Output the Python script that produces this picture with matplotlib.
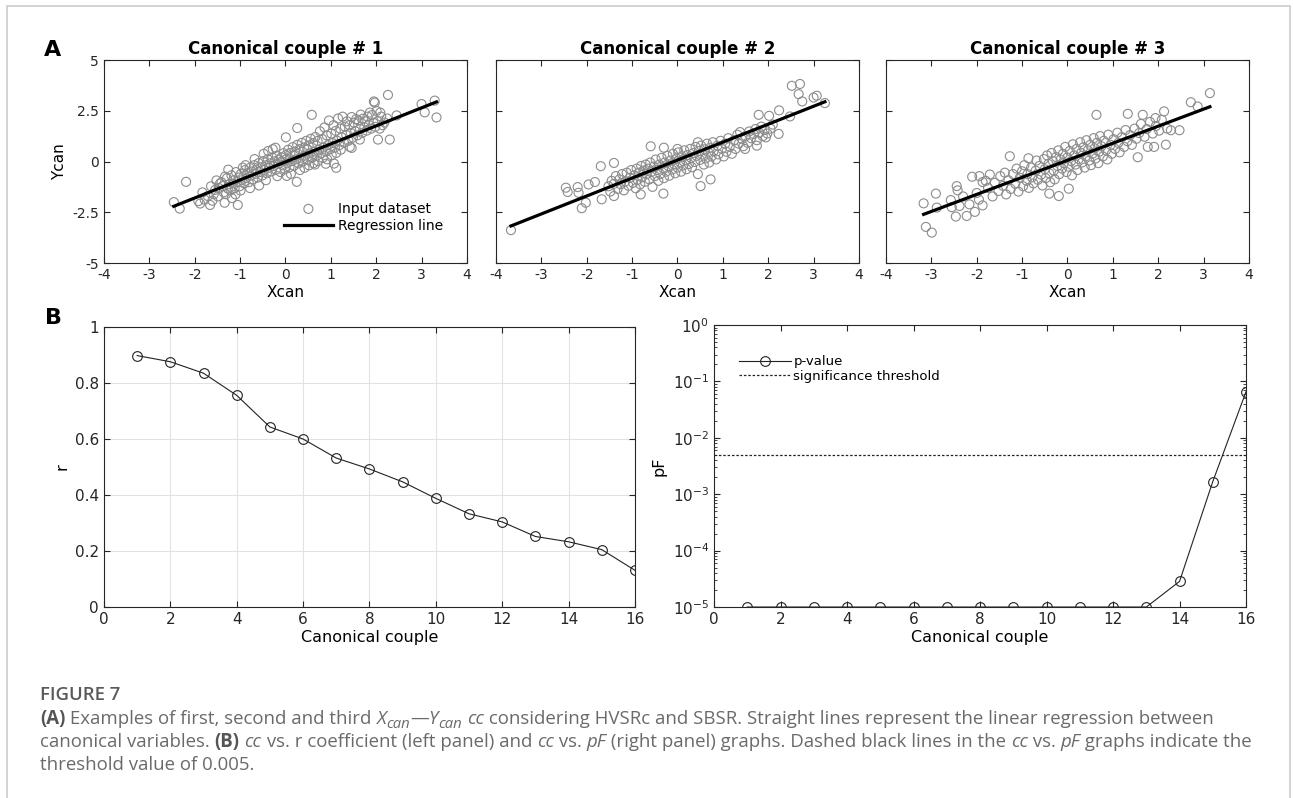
#! /usr/bin/env python

# Necessary Libraries
import numpy as np
import matplotlib.pyplot as plt
from matplotlib.patches import Rectangle

plt.rcParams['font.family'] = ['DejaVu Sans']

# ---- data ----

# canonical couple #1 (Xcan, Ycan)
cc1 = [
    (-2.46, -2.00), (-2.33, -2.32), (-2.19, -1.00), (-1.88, -2.07), (-1.66, -2.14), (-1.34, -2.03), (-1.05, -2.14),
    (-1.92, -1.95), (-1.83, -1.52), (-1.78, -1.88), (-1.71, -1.70),
    (-1.64, -1.22), (-1.58, -1.61), (-1.61, -1.93), (-1.55, -1.40),
    (-1.52, -0.93), (-1.47, -1.30), (-1.49, -1.72), (-1.44, -1.08),
    (-1.41, -1.02), (-1.36, -1.52), (-1.38, -1.21), (-1.33, -0.74),
    (-1.29, -0.82), (-1.27, -1.33), (-1.31, -1.61), (-1.24, -1.12), (-1.26, -0.40),
    (-1.19, -0.68), (-1.16, -1.08), (-1.21, -1.42), (-1.14, -0.93), (-1.18, -1.80),
    (-1.09, -0.52), (-1.06, -1.01), (-1.12, -1.31), (-1.03, -0.79), (-1.10, -1.62),
    (-0.98, -0.61), (-0.96, -0.92), (-1.01, -1.22), (-0.94, -0.30), (-0.99, -1.43),
    (-0.89, -0.42), (-0.86, -0.81), (-0.91, -1.08), (-0.84, -0.58), (-0.88, -0.18),
    (-0.79, -0.32), (-0.76, -0.70), (-0.81, -1.02), (-0.74, -0.49), (-0.78, -1.31),
    (-0.69, -0.18), (-0.66, -0.61), (-0.71, -0.88), (-0.64, -0.40), (-0.68, 0.12),
    (-0.59, -0.08), (-0.56, -0.52), (-0.61, -0.79), (-0.54, -0.28), (-0.58, -1.18),
    (-0.49, 0.02), (-0.46, -0.41), (-0.51, -0.69), (-0.44, -0.19), (-0.48, 0.38),
    (-0.39, 0.11), (-0.36, -0.31), (-0.41, -0.58), (-0.34, -0.09), (-0.38, 0.52), (-0.43, -0.92),
    (-0.29, 0.19), (-0.26, -0.22), (-0.31, -0.49), (-0.24, 0.01), (-0.28, 0.61),
    (-0.19, 0.28), (-0.16, -0.12), (-0.21, -0.41), (-0.14, 0.09), (-0.18, -0.72), (-0.22, 0.68),
    (-0.09, 0.21), (-0.06, -0.19), (-0.11, -0.52), (-0.04, 0.41), (-0.08, 0.01),
    (0.01, 0.31), (0.04, -0.09), (-0.01, -0.38), (0.06, 0.58), (0.02, 0.12), (0.03, -0.71),
    (0.11, 0.42), (0.14, 0.02), (0.09, -0.28), (0.16, 0.71), (0.12, -0.61),
    (0.21, 0.49), (0.24, 0.11), (0.19, -0.21), (0.26, 0.82), (0.22, 0.31),
    (0.31, 0.61), (0.34, 0.19), (0.29, -0.09), (0.36, 0.92), (0.32, -0.42),
    (0.41, 0.69), (0.44, 0.29), (0.39, 0.01), (0.46, 1.02), (0.42, -0.31),
    (0.51, 0.79), (0.54, 0.41), (0.49, 0.09), (0.56, 1.12), (0.52, -0.19), (0.48, 0.61),
    (0.61, 0.91), (0.64, 0.49), (0.59, 0.19), (0.66, 1.21), (0.62, -0.08),
    (0.71, 1.01), (0.74, 0.59), (0.69, 0.29), (0.76, 1.49), (0.72, 0.02),
    (0.81, 1.11), (0.84, 0.69), (0.79, 0.41), (0.86, 1.68), (0.82, 0.18),
    (0.91, 1.29), (0.94, 0.81), (0.89, 0.49), (0.96, 2.02), (0.92, 0.11),
    (1.01, 1.38), (1.04, 0.91), (0.99, 0.61), (1.06, 1.79), (1.02, 0.31),
    (1.11, 1.51), (1.14, 1.02), (1.09, 0.69), (1.16, 2.12), (1.12, 0.42),
    (1.21, 1.62), (1.24, 1.19), (1.19, 0.81), (1.26, 2.21), (1.22, 0.58),
    (1.31, 1.71), (1.34, 1.31), (1.29, 0.92), (1.36, 1.98),
    (1.41, 1.79), (1.44, 1.41), (1.39, 1.02), (1.46, 2.19), (1.42, 0.72),
    (1.51, 1.91), (1.54, 1.49), (1.49, 1.18), (1.56, 2.09),
    (1.61, 2.02), (1.64, 1.61), (1.59, 1.29), (1.66, 2.31),
    (1.71, 2.11), (1.74, 1.69), (1.69, 1.41), (1.76, 1.98),
    (1.81, 2.21), (1.84, 1.81), (1.79, 1.52), (1.86, 2.41),
    (1.91, 2.29), (1.94, 1.91), (1.89, 1.62),
    (2.01, 2.49), (2.03, 1.98), (1.98, 1.71), (2.08, 1.62),
    (2.11, 2.21), (2.14, 1.79), (2.09, 2.41), (2.18, 1.92), (2.24, 2.12),
    (0.25, -1.00), (0.58, 2.30), (1.12, -0.31), (1.07, -0.10), (0.26, 1.65), (0.01, 1.19),
    (2.26, 3.28), (1.95, 2.96), (1.97, 2.90), (2.45, 2.27), (2.30, 1.08), (2.04, 1.08),
    (3.00, 2.83), (3.07, 2.42), (3.29, 3.00), (3.33, 2.17),
    (1.64, 1.08), (1.46, 0.67), (0.65, -0.15), (0.89, -0.11),
]

# canonical couple #2
cc2 = [
    (-3.67, -3.38), (-2.46, -1.29), (-2.42, -1.50), (-2.20, -1.26), (-2.18, -1.54),
    (-2.11, -2.30), (-2.02, -2.03), (-1.96, -1.13), (-1.82, -1.01), (-1.69, -0.23),
    (-1.40, -0.07), (-1.67, -1.86), (-1.40, -1.70), (-0.59, 0.75), (-0.31, -1.58),
    (-0.81, -1.62), (0.51, -1.21), (0.73, -0.88),
    (2.52, 3.73), (2.70, 3.82), (2.67, 3.32), (2.75, 2.96), (3.00, 3.15), (3.07, 3.24), (3.25, 2.88),
    (2.24, 2.52), (2.48, 2.22), (2.23, 1.36), (1.95, 1.19), (1.75, 0.78), (1.49, 0.62),
    (1.79, 2.30), (2.02, 2.25),
    (-1.52, -1.22), (-1.45, -0.95), (-1.48, -1.48), (-1.40, -1.10), (-1.36, -0.72),
    (-1.32, -1.35), (-1.28, -0.88), (-1.25, -1.12), (-1.22, -0.62), (-1.18, -1.42),
    (-1.15, -0.98), (-1.12, -0.55), (-1.08, -1.20), (-1.05, -0.80), (-1.02, -0.42),
    (-0.98, -1.05), (-0.95, -0.68), (-0.92, -1.32), (-0.90, -0.35), (-0.88, -0.90),
    (-0.85, -0.55), (-0.82, -1.12), (-0.80, -0.22), (-0.78, -0.78), (-0.75, -0.45),
    (-0.72, -1.00), (-0.70, -0.15), (-0.68, -0.62), (-0.65, -0.35), (-0.62, -0.88),
    (-0.60, -0.05), (-0.58, -0.52), (-0.55, -1.25), (-0.52, -0.25), (-0.50, -0.72),
    (-0.48, 0.10), (-0.45, -0.42), (-0.42, -0.95), (-0.40, -0.15), (-0.38, -0.62),
    (-0.35, 0.18), (-0.32, -0.32), (-0.30, -0.82), (-0.28, -0.05), (-0.25, -0.50),
    (-0.22, 0.28), (-0.20, -0.22), (-0.18, -0.70), (-0.15, 0.05), (-0.12, -0.40),
    (-0.10, 0.38), (-0.08, -0.12), (-0.05, -0.58), (-0.02, 0.15), (0.00, -0.30),
    (0.02, 0.45), (0.05, -0.02), (0.08, -0.50), (0.10, 0.25), (0.12, -0.20),
    (0.15, 0.55), (0.18, 0.08), (0.20, -0.38), (0.22, 0.32), (0.25, -0.12),
    (0.28, 0.62), (0.30, 0.18), (0.32, -0.28), (0.35, 0.42), (0.38, -0.02),
    (0.40, 0.72), (0.42, 0.28), (0.45, -0.62), (0.48, 0.52), (0.50, 0.08),
    (0.52, 0.78), (0.55, 0.35), (0.58, -0.15), (0.60, 0.60), (0.62, 0.15),
    (0.65, 0.88), (0.68, 0.45), (0.70, -0.05), (0.72, 0.68), (0.75, 0.25),
    (0.78, 0.95), (0.80, 0.52), (0.85, 0.10), (0.88, 0.78), (0.90, 0.35),
    (0.95, 1.02), (0.98, 0.62), (1.02, 0.25), (1.05, 0.88), (1.08, 0.48),
    (1.12, 1.15), (1.15, 0.72), (1.20, 0.38), (1.25, 1.05), (1.28, 0.62),
    (1.32, 1.32), (1.35, 0.88), (1.38, 1.45), (1.42, 1.10), (1.45, 0.75),
    (1.50, 1.25), (1.55, 0.92), (1.58, 1.48), (1.62, 1.15), (1.68, 1.35),
    (1.72, 1.60), (1.75, 1.05), (1.80, 1.42), (1.85, 1.72), (1.88, 1.25),
    (1.92, 1.55), (1.98, 1.38), (2.05, 1.62), (2.10, 1.82), (0.00, 0.62), (-0.30, 0.68), (0.45, 0.95),
]

# canonical couple #3
cc3 = [
    (-3.17, -2.06), (-3.12, -3.22), (-2.99, -3.50), (-2.90, -1.58), (-2.88, -2.27),
    (-2.57, -1.90), (-2.44, -1.21), (-2.42, -1.42), (-2.46, -2.71), (-2.22, -2.68), (-2.04, -2.48),
    (-2.38, -2.19), (-2.16, -2.11), (-1.87, -2.16), (-2.10, -0.75), (-1.94, -0.72), (-1.71, -0.64),
    (-1.87, -1.01), (-1.27, 0.26), (-0.86, 0.16), (-0.40, -1.58), (-0.19, -1.70), (0.03, -1.34),
    (0.64, 2.30), (1.33, 2.35), (1.66, 2.30), (1.94, 2.14), (2.13, 2.47), (2.47, 1.54), (2.28, 1.54),
    (2.17, 0.83), (1.91, 0.72), (1.77, 0.72), (1.55, 0.21), (2.72, 2.92), (2.87, 2.71), (3.14, 3.37),
    (-1.60, -1.05), (-1.52, -1.45), (-1.48, -0.72), (-1.42, -1.20), (-1.38, -0.55),
    (-1.35, -1.62), (-1.30, -0.92), (-1.25, -1.35), (-1.20, -0.62), (-1.15, -1.10),
    (-1.12, -0.35), (-1.08, -1.48), (-1.05, -0.80), (-1.00, -0.48), (-0.98, -1.22),
    (-0.95, -0.18), (-0.90, -0.95), (-0.88, -0.62), (-0.85, -1.30), (-0.80, -0.30),
    (-0.78, -0.78), (-0.75, -1.08), (-0.70, -0.45), (-0.68, 0.05), (-0.65, -0.90),
    (-0.62, -0.22), (-0.58, -0.65), (-0.55, -1.18), (-0.52, 0.12), (-0.50, -0.38),
    (-0.48, -0.82), (-0.45, 0.30), (-0.42, -0.12), (-0.40, -0.58), (-0.38, -1.02),
    (-0.35, 0.42), (-0.32, 0.02), (-0.30, -0.45), (-0.28, -0.88), (-0.25, 0.22),
    (-0.22, -0.22), (-0.20, 0.55), (-0.18, -0.62), (-0.15, 0.10), (-0.12, -0.35),
    (-0.10, 0.38), (-0.08, -0.08), (-0.05, 0.72), (-0.02, -0.52), (0.00, 0.20),
    (0.02, -0.25), (0.05, 0.52), (0.08, 0.02), (0.10, -0.68), (0.12, 0.85),
    (0.15, 0.30), (0.18, -0.15), (0.20, 0.62), (0.22, -0.42), (0.25, 0.12),
    (0.28, 0.95), (0.30, 0.42), (0.32, -0.05), (0.35, 0.70), (0.38, -0.30),
    (0.40, 0.25), (0.42, 1.05), (0.45, 0.55), (0.48, 0.05), (0.50, 0.82),
    (0.52, -0.18), (0.55, 0.38), (0.58, 1.15), (0.60, 0.65), (0.62, 0.15),
    (0.65, 0.92), (0.68, -0.08), (0.70, 0.48), (0.72, 1.25), (0.75, 0.75),
    (0.78, 0.25), (0.80, 1.02), (0.85, 0.55), (0.88, 0.10), (0.90, 1.32),
    (0.95, 0.82), (0.98, 0.38), (1.02, 1.10), (1.05, 0.62), (1.10, 1.42),
    (1.12, 0.92), (1.15, 0.45), (1.20, 1.20), (1.25, 0.72), (1.28, 1.55),
    (1.32, 1.00), (1.38, 1.30), (1.42, 0.82), (1.48, 1.62), (1.52, 1.12),
    (1.58, 1.40), (1.62, 1.85), (1.70, 1.22), (1.75, 1.60), (1.82, 1.95),
    (1.88, 1.38), (1.95, 1.75), (2.02, 1.52), (2.08, 2.05), (2.20, 1.62),
    (-1.75, -1.30), (-1.80, -0.95), (-1.65, -1.72), (-2.00, -1.55), (-1.95, -1.88),
    (-2.30, -1.72), (-2.55, -2.25),
]

# regression lines (slope, intercept) for each couple
reg_coef = [(0.888, -0.02), (0.884, 0.07), (0.840, 0.06)]

# panel B
couple = list(range(1, 17))
r_coef = [0.898, 0.876, 0.835, 0.756, 0.643, 0.600, 0.532, 0.493, 0.447, 0.388,
          0.333, 0.304, 0.252, 0.233, 0.205, 0.131]
p_value = [1e-5] * 13 + [2.85e-5, 1.68e-3, 6.6e-2]
threshold = 0.005

# caption runs: (text, style) b=bold, n=normal, i=italic, s=subscript
caption_lines = [
    [("(A)", 'b'), (" Examples of first, second and third ", 'n'), ("X", 'i'), ("can", 's'),
     ("\u2014", 'n'), ("Y", 'i'), ("can", 's'), (" ", 'n'), ("cc", 'i'),
     (" considering HVSRc and SBSR. Straight lines represent the linear regression between", 'n')],
    [("canonical variables. ", 'n'), ("(B)", 'b'), (" ", 'n'), ("cc", 'i'),
     (" vs. r coefficient (left panel) and ", 'n'), ("cc", 'i'), (" vs. ", 'n'), ("pF", 'i'),
     (" (right panel) graphs. Dashed black lines in the ", 'n'), ("cc", 'i'), (" vs. ", 'n'),
     ("pF", 'i'), (" graphs indicate the", 'n')],
    [("threshold value of 0.005.", 'n')],
]

# ---- styling helpers ----
AX_COL = '#262626'
W, H = 1293, 798


def matlab_axes(ax, fs):
    for s in ax.spines.values():
        s.set_color(AX_COL)
        s.set_linewidth(0.8)
    ax.tick_params(which='both', direction='in', top=True, right=True,
                   colors=AX_COL, labelsize=fs, length=4)
    ax.tick_params(which='minor', length=2)


def run_style(st, fs):
    kw = dict(fontsize=fs, color='#6a6a6a', family='Open Sans', va='baseline')
    if st == 'b':
        kw['fontweight'] = 'bold'
        kw['color'] = '#555555'
    elif st == 'i':
        kw['style'] = 'italic'
    elif st == 's':
        kw['style'] = 'italic'
        kw['fontsize'] = fs * 0.8
    return kw


def draw_runs(x_px, base_px, runs, fs):
    renderer = fig.canvas.get_renderer()
    for txt, st in runs:
        kw = run_style(st, fs)
        yb = base_px + (3.5 if st == 's' else 0)
        t1 = fig.text(0, 0, txt + '|', **kw)
        t2 = fig.text(0, 0, '|', **kw)
        w = t1.get_window_extent(renderer).width - t2.get_window_extent(renderer).width
        t1.remove()
        t2.remove()
        fig.text(x_px / W, 1 - yb / H, txt, **kw)
        x_px += w


fig = plt.figure(figsize=(12.93, 7.98), dpi=100)
fig.patches.append(Rectangle((0.0055, -0.01), 0.992, 1.003, transform=fig.transFigure,
                             fill=False, edgecolor='#cccccc', linewidth=1.2))

top_left = [0.0804, 0.3836, 0.6852]
for i, (data, coef) in enumerate(zip([cc1, cc2, cc3], reg_coef)):
    ax = fig.add_axes([top_left[i], 0.6704, 0.2807, 0.2544])
    d = np.array(data)
    ax.scatter(d[:, 0], d[:, 1], s=42, facecolors='none', edgecolors='#8c8c8c',
               linewidths=0.8, label='Input dataset', zorder=2)
    xl = np.array([d[:, 0].min(), d[:, 0].max()])
    ax.plot(xl, coef[0] * xl + coef[1], color='black', lw=2.3, label='Regression line', zorder=3)
    ax.set_xlim(-4, 4)
    ax.set_ylim(-5, 5)
    ax.set_xticks(range(-4, 5))
    ax.set_yticks([-5, -2.5, 0, 2.5, 5])
    ax.set_yticklabels(['-5', '-2.5', '0', '2.5', '5'])
    ax.set_xticklabels([str(v) for v in range(-4, 5)])
    matlab_axes(ax, 10)
    ax.set_title('Canonical couple # %d' % (i + 1), fontsize=12, fontweight='bold', pad=4)
    ax.set_xlabel('Xcan', fontsize=11, labelpad=2)
    if i == 0:
        ax.set_ylabel('Ycan', fontsize=11)
        ax.legend(loc='lower right', frameon=False, fontsize=10, handlelength=3.5,
                  borderaxespad=0.3, labelspacing=0.25, handletextpad=0.35,
                  bbox_to_anchor=(0.96, 0.1))
    else:
        ax.set_yticklabels([])

# r coefficient
ax1 = fig.add_axes([0.0804, 0.2393, 0.4107, 0.3509])
ax1.plot(couple, r_coef, '-o', color='#222222', lw=0.8, mfc='none', mec='#222222',
         ms=7, mew=0.8)
ax1.set_xlim(0, 16)
ax1.set_ylim(0, 1)
ax1.set_xticks(range(0, 17, 2))
ax1.set_yticks([0, 0.2, 0.4, 0.6, 0.8, 1])
ax1.set_yticklabels(['0', '0.2', '0.4', '0.6', '0.8', '1'])
ax1.grid(True, color='#e2e2e2', lw=0.8)
ax1.set_axisbelow(True)
matlab_axes(ax1, 11)
ax1.set_xlabel('Canonical couple', fontsize=11.5, labelpad=2)
ax1.set_ylabel('r', fontsize=11.5)

# p-value
ax2 = fig.add_axes([0.5522, 0.2393, 0.4115, 0.3534])
ax2.semilogy(couple, p_value, '-o', color='#222222', lw=0.8, mfc='none', mec='#222222',
             ms=7, mew=0.8, label='p-value')
ax2.axhline(threshold, color='#222222', lw=0.9, ls=(0, (2, 1.5)), label='significance threshold')
ax2.set_xlim(0, 16)
ax2.set_ylim(1e-5, 1)
ax2.set_xticks(range(0, 17, 2))
matlab_axes(ax2, 11)
ax2.set_xlabel('Canonical couple', fontsize=11.5, labelpad=2)
ax2.set_ylabel('pF', fontsize=11.5)
ax2.legend(loc='upper left', frameon=False, fontsize=9.5, handlelength=3.9,
           handletextpad=0.2, labelspacing=0.1, bbox_to_anchor=(0.025, 0.935))

# panel letters
fig.text(0.041, 0.937, 'A', fontsize=16, fontweight='bold', va='center', ha='center')
fig.text(0.041, 0.601, 'B', fontsize=16, fontweight='bold', va='center', ha='center')

# caption
fig.text(40 / W, 1 - 700 / H, 'FIGURE 7', fontsize=13.3, color='#5a5a5a', family='Open Sans',
         fontweight='semibold', va='baseline')
for base, runs in zip([724, 747, 770], caption_lines):
    draw_runs(40, base, runs, 13.4)

plt.savefig('out.png', dpi=100)
